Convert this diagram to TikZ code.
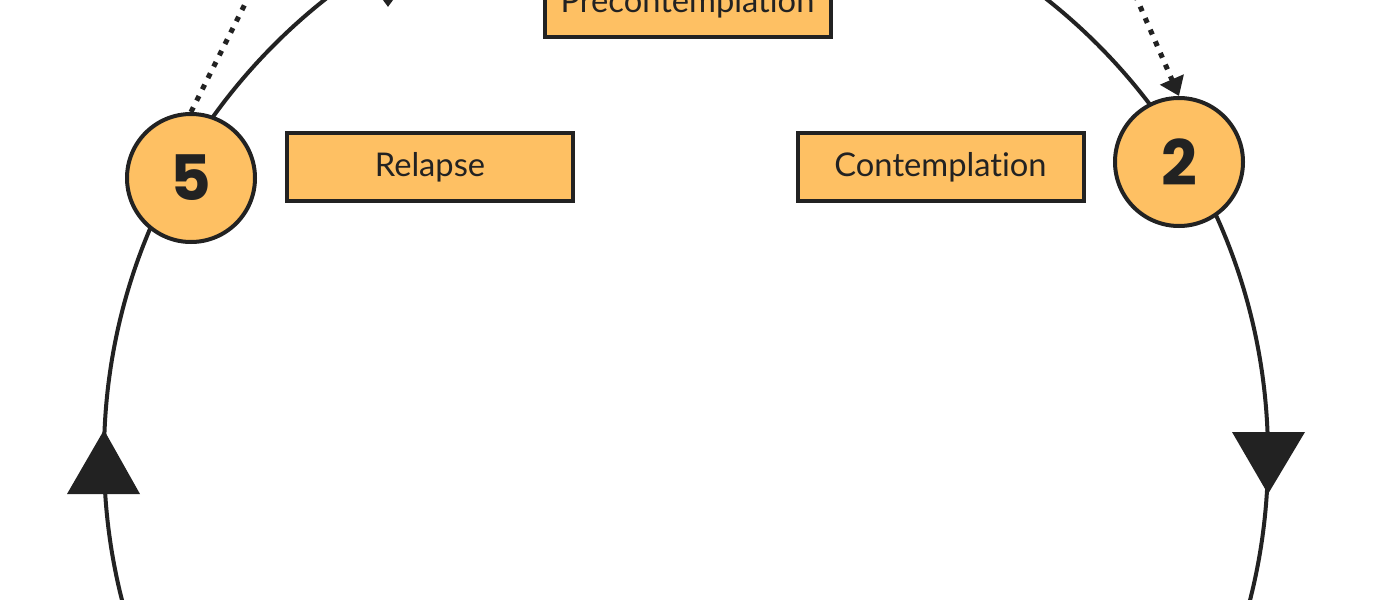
\documentclass[tikz,border=0pt]{standalone}
\usepackage{fontspec}
\setmainfont{Lato}[Ligatures={NoCommon}]
\newfontfamily\digitfont{Poppins}[UprightFont=* Bold]
\usetikzlibrary{arrows.meta}
\definecolor{stageorange}{HTML}{FEC063}
\definecolor{ink}{HTML}{222222}
\begin{document}
\begin{tikzpicture}[x=0.75pt,y=-0.75pt,
  stagecircle/.style={circle, draw=ink, fill=stageorange, line width=3pt, minimum size=96pt, inner sep=0pt, text=ink, font=\digitfont\fontsize{47}{52}\selectfont},
  stagebox/.style={rectangle, draw=ink, fill=stageorange, line width=3pt, minimum width=214.5pt, minimum height=50.5pt, inner sep=0pt, text=ink, font=\fontsize{24.5}{29}\selectfont},
  cycleline/.style={draw=ink, line width=3pt},
  dotline/.style={draw=ink, line width=3.8pt, dash pattern=on 3.9pt off 5.6pt, -{Triangle[width=18.75pt,length=13.5pt]}},
  bigtip/.style={fill=ink}
]
\useasboundingbox (0,0) rectangle (1386,600);
\clip (0,0) rectangle (1386,600);
\fill[white] (0,0) rectangle (1386,600);
% main cycle
\coordinate (cc) at (686,456);
\draw[cycleline] (cc) circle[radius=436.5pt];
% cycle arrowheads
\fill[bigtip] (67,494) -- (140,494) -- (104,430) -- cycle;
\fill[bigtip] (1232,432) -- (1305,432) -- (1268,494) -- cycle;
% nodes
\node[stagecircle] (n5) at (191,178) {5};
\node[stagecircle] (n2) at (1179,162) {2};
\node[stagebox] (relapse) at (430,167) {Relapse};
\node[stagebox] (contemp) at (940.5,167) {Contemplation};
\node[stagebox] (precontemp) at (687.5,3.5) {Precontemplation};
% dotted arrows
\coordinate (d5end) at (284,-74);
\coordinate (d2start) at (1120,-40);
\coordinate (dtopstart) at (388,-60);
\coordinate (dtopend) at (388,7);
\draw[dotline] (n5.north) -- (d5end);
\draw[dotline] (d2start) -- (n2.north);
\draw[dotline] (dtopstart) -- (dtopend);
\end{tikzpicture}
\end{document}
